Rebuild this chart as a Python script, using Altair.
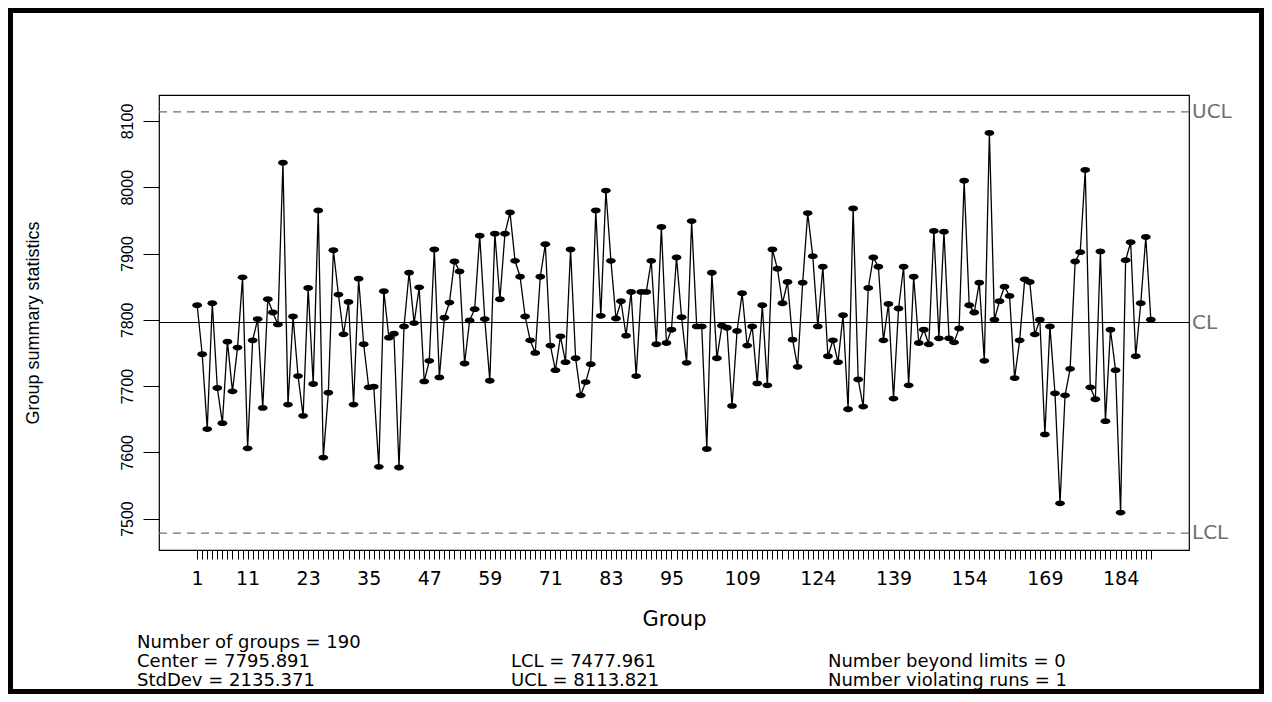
import altair as alt
import pandas as pd

# ---- data ----
groups = list(range(1, 191))
values = [
    7822, 7748, 7635, 7825, 7697, 7644, 7767, 7692, 7758, 7864, 7606, 7769, 7801, 7667, 7831, 7811,
    7793, 8037, 7672, 7805, 7715, 7655, 7848, 7703,
    7965, 7592, 7690, 7905, 7838, 7778, 7827, 7672, 7862, 7763, 7698, 7699, 7578, 7843, 7773, 7779,
    7577, 7790, 7871, 7795, 7849, 7707, 7738, 7906, 7713,
    7803, 7826, 7888, 7873, 7734, 7799, 7816, 7927, 7801, 7708, 7930, 7831, 7930, 7962, 7889, 7865,
    7805, 7769, 7750, 7865, 7914, 7761, 7724, 7775, 7736,
    7906, 7742, 7686, 7706, 7733, 7965, 7806, 7995, 7889, 7802, 7828, 7776, 7842, 7715, 7842, 7842,
    7889, 7763, 7940, 7765, 7785, 7894, 7804, 7735, 7949,
    7790, 7790, 7605, 7871, 7742, 7791, 7788, 7670, 7783, 7840, 7761, 7790, 7704, 7822, 7701, 7906,
    7877, 7825, 7857, 7770, 7729, 7856, 7961, 7896,
    7790, 7880, 7745, 7769, 7736, 7807, 7665, 7968, 7710, 7669, 7848, 7894, 7880, 7769, 7824, 7681,
    7817, 7880, 7701, 7865, 7765, 7785, 7763, 7934, 7772,
    7933, 7772, 7766, 7787, 8010, 7822, 7811, 7856, 7738, 8082, 7800, 7828, 7850, 7836, 7712, 7769,
    7861, 7857, 7778, 7800, 7627, 7790, 7689, 7523, 7686,
    7726, 7888, 7902, 8026, 7698, 7680, 7903, 7647, 7785, 7724, 7509, 7890, 7917, 7745, 7825, 7925,
    7800,
]
x_labels = [1, 11, 23, 35, 47, 59, 71, 83, 95, 109, 124, 139, 154, 169, 184]
y_ticks = [7500, 7600, 7700, 7800, 7900, 8000, 8100]

center = 7795.891
lcl = 7477.961
ucl = 8113.821
limit_names = ["UCL", "CL", "LCL"]
limit_values = [ucl, center, lcl]

stats_col1 = ["Number of groups = 190", "Center = 7795.891", "StdDev = 2135.371"]
stats_col2 = ["LCL = 7477.961", "UCL = 8113.821"]
stats_col3 = ["Number beyond limits = 0", "Number violating runs = 1"]

# ---- layout ----
W, H = 1030, 455
PAD = {"left": 151, "top": 87, "right": 75, "bottom": 144}

df = pd.DataFrame({"group": groups, "stat": values})
lim = pd.DataFrame({"name": limit_names, "value": limit_values})

# R-style 4% expansion of the ranges
gx0, gx1 = min(groups), max(groups)
xr = gx1 - gx0
lo = min(lcl, min(values))
hi = max(ucl, max(values))
yr = hi - lo
xscale = alt.Scale(domain=[gx0 - 0.04 * xr, gx1 + 0.04 * xr], nice=False, zero=False)
yscale = alt.Scale(domain=[lo - 0.04 * yr, hi + 0.04 * yr], nice=False, zero=False)

label_list = ",".join(str(v) for v in x_labels)
xaxis = alt.Axis(
    values=groups,
    labelExpr=f"indexof([{label_list}], datum.value) >= 0 ? datum.label : ''",
    labelOverlap=False,
    labelFlush=False,
    domain=False,
    grid=False,
    tickSize=9,
    tickColor="black",
    tickWidth=1,
    labelFont="DejaVu Sans",
    labelFontSize=19,
    labelColor="black",
    labelPadding=10,
    title="Group",
    titleFont="DejaVu Sans",
    titleFontSize=21,
    titleFontWeight="normal",
    titleColor="black",
    titleY=69,
    titleBaseline="middle",
)
yaxis = alt.Axis(
    values=y_ticks,
    format="d",
    domain=False,
    grid=False,
    tickSize=16,
    tickColor="black",
    tickWidth=1,
    labelAngle=270,
    labelAlign="center",
    labelBaseline="alphabetic",
    labelPadding=11,
    labelFont="Liberation Sans",
    labelFontSize=16,
    labelColor="black",
    title="Group summary statistics",
    titleFont="Liberation Sans",
    titleFontSize=18,
    titleFontWeight="normal",
    titleColor="black",
    titleAngle=270,
    titleAlign="center",
    titleBaseline="middle",
    titleX=-126,
    titleY=H / 2,
)

base = alt.Chart(df)
enc_x = alt.X("group:Q", scale=xscale, axis=xaxis)
enc_y = alt.Y("stat:Q", scale=yscale, axis=yaxis)
line = base.mark_line(color="black", strokeWidth=1.3).encode(x=enc_x, y=enc_y)
ellipse = "M-1,0A1,0.6,0,1,0,1,0A1,0.6,0,1,0,-1,0Z"
points = base.mark_point(shape=ellipse, size=95, filled=True, color="black", opacity=1).encode(
    x=enc_x, y=enc_y
)

enc_ly = alt.Y("value:Q", scale=yscale, axis=yaxis)
limits_dashed = alt.Chart(lim[lim["name"] != "CL"]).mark_rule(
    color="#707070", strokeDash=[8, 6], strokeWidth=1.2
).encode(y=enc_ly)
center_rule = alt.Chart(lim[lim["name"] == "CL"]).mark_rule(
    color="black", strokeWidth=1.2
).encode(y=enc_ly)
limit_text = alt.Chart(lim).mark_text(
    align="left", baseline="middle", font="DejaVu Sans", fontSize=20, color="#707070", dx=3
).encode(
    x=alt.value(W),
    y=enc_ly,
    text="name:N",
)

# statistics block under the chart
col_x = [-22, 352, 669]
row_y = [548, 567, 586]
text_layers = []
for i, t in enumerate(stats_col1):
    text_layers.append((t, col_x[0], row_y[i]))
for i, t in enumerate(stats_col2):
    text_layers.append((t, col_x[1], row_y[i + 1]))
for i, t in enumerate(stats_col3):
    text_layers.append((t, col_x[2], row_y[i + 1]))
stat_charts = [
    alt.Chart(pd.DataFrame({"t": [t]})).mark_text(
        align="left", baseline="middle", font="DejaVu Sans", fontSize=18, color="black"
    ).encode(text="t:N", x=alt.value(px), y=alt.value(py))
    for t, px, py in text_layers
]

# outer black frame
fw = 5
frame = alt.Chart(pd.DataFrame({"a": [0]})).mark_rect(
    filled=False, stroke="black", strokeWidth=fw
).encode(
    x=alt.value(-PAD["left"] + fw / 2),
    x2=alt.value(W + PAD["right"] - fw / 2),
    y=alt.value(-PAD["top"] + fw / 2),
    y2=alt.value(H + PAD["bottom"] - fw / 2),
)

chart = alt.layer(
    frame, limits_dashed, center_rule, line, points, limit_text, *stat_charts
).properties(
    width=W,
    height=H,
    autosize=alt.AutoSizeParams(type="none"),
    padding=PAD,
    background="white",
).configure_view(stroke="black", strokeWidth=1.2)

chart.save("out.html", embed_options={"renderer": "svg", "actions": False})
